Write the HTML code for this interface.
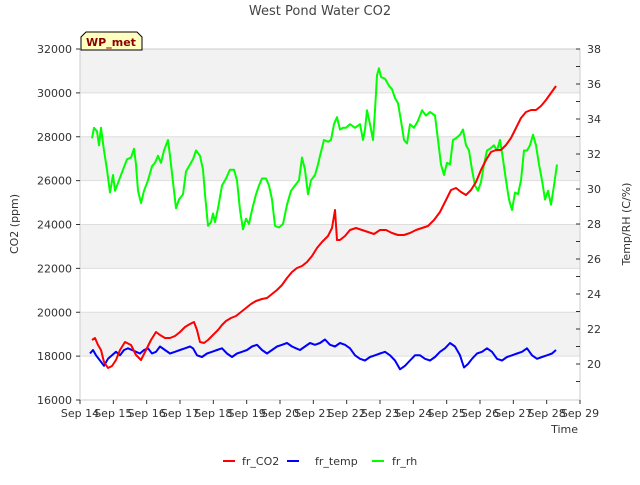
<!DOCTYPE html>
<html><head><meta charset="utf-8"><style>
body{margin:0;background:#fff;font-family:"Liberation Sans",sans-serif}
svg text{font-family:"DejaVu Sans","Liberation Sans",sans-serif}
</style></head><body>
<svg id="chart" width="640" height="480">
<text x="320" y="15" text-anchor="middle" font-size="13" fill="#444">West Pond Water CO2</text>
<g id="bands"></g>
<rect x="80" y="49" width="500" height="351" fill="none" stroke="#ccc"/>
<g id="axes"></g>
<g id="series"></g>
<text transform="translate(18,224) rotate(-90)" text-anchor="middle" font-size="11" fill="#333">CO2 (ppm)</text>
<text transform="translate(630,224) rotate(-90)" text-anchor="middle" font-size="11" fill="#333">Temp/RH (C/%)</text>
<text x="578" y="433" text-anchor="end" font-size="11" fill="#333">Time</text>
<g>
<path d="M81,50 L81,37 L86,32 L137,32 L142,37 L142,50 Z" fill="#ffffc0" stroke="#000"/>
<text x="111" y="46" text-anchor="middle" font-size="11" font-weight="bold" fill="#8b0000">WP_met</text>
</g>
<g>
<g><line x1="223" y1="461" x2="235" y2="461" stroke="#f00" stroke-width="2"/><text x="242" y="465" font-size="11" fill="#333">fr_CO2</text></g>
<g><line x1="287" y1="461" x2="299" y2="461" stroke="#00f" stroke-width="2"/><text x="315" y="465" font-size="11" fill="#333">fr_temp</text></g>
<g><line x1="372" y1="461" x2="384" y2="461" stroke="#0f0" stroke-width="2"/><text x="392" y="465" font-size="11" fill="#333">fr_rh</text></g>
</g>
</svg>
<script>
const xTickLabels=["Sep 14","Sep 15","Sep 16","Sep 17","Sep 18","Sep 19","Sep 20","Sep 21","Sep 22","Sep 23","Sep 24","Sep 25","Sep 26","Sep 27","Sep 28","Sep 29"];
const yTicks=[16000,18000,20000,22000,24000,26000,28000,30000,32000];
const y2Ticks=[20,22,24,26,28,30,32,34,36,38];
const co2T=[.36,.45,.54,.63,.72,.84,.96,1.08,1.2,1.35,1.53,1.68,1.83,1.98,2.13,2.28,2.4,2.55,2.7,2.85,3.0,3.15,3.3,3.42,3.51,3.6,3.72,3.84,3.99,4.14,4.26,4.38,4.53,4.68,4.83,4.98,5.13,5.28,5.46,5.61,5.76,5.91,6.06,6.21,6.36,6.51,6.66,6.81,6.96,7.11,7.26,7.44,7.56,7.65,7.71,7.8,7.95,8.1,8.28,8.46,8.64,8.82,9.0,9.18,9.36,9.54,9.72,9.9,10.08,10.26,10.44,10.62,10.8,10.98,11.13,11.28,11.43,11.58,11.73,11.88,12.03,12.18,12.33,12.48,12.63,12.78,12.93,13.08,13.23,13.38,13.53,13.68,13.83,13.98,14.13,14.28];
const co2V=[18735,18826,18507,18279,17732,17459,17550,17823,18279,18644,18507,18051,17823,18279,18735,19100,18963,18826,18826,18917,19100,19327,19464,19555,19191,18644,18598,18735,18963,19191,19419,19601,19738,19829,20011,20193,20376,20512,20604,20649,20832,21014,21242,21561,21834,22017,22108,22290,22563,22928,23202,23475,23840,24660,23293,23293,23475,23749,23840,23749,23658,23566,23749,23749,23612,23521,23521,23612,23749,23840,23931,24205,24569,25116,25572,25663,25481,25344,25572,25937,26484,26940,27305,27396,27396,27624,27943,28398,28854,29128,29219,29219,29401,29675,29994,30313];
const tempT=[.3,.39,.48,.6,.72,.84,.96,1.08,1.2,1.32,1.44,1.56,1.68,1.8,1.92,2.04,2.16,2.28,2.4,2.55,2.7,2.85,3.0,3.15,3.3,3.39,3.51,3.66,3.81,3.96,4.11,4.26,4.41,4.56,4.71,4.86,5.01,5.16,5.31,5.46,5.61,5.76,5.91,6.06,6.21,6.36,6.48,6.6,6.75,6.9,7.05,7.2,7.35,7.5,7.65,7.8,7.95,8.1,8.25,8.4,8.55,8.7,8.85,9.0,9.15,9.3,9.45,9.6,9.75,9.9,10.05,10.2,10.35,10.5,10.65,10.8,10.95,11.1,11.25,11.4,11.52,11.64,11.76,11.91,12.06,12.21,12.36,12.51,12.66,12.81,12.96,13.11,13.26,13.41,13.56,13.71,13.86,14.01,14.16,14.28];
const tempV=[20.6,20.8,20.5,20.2,19.9,20.3,20.5,20.7,20.5,20.8,20.9,20.8,20.7,20.6,20.8,20.9,20.6,20.7,21.0,20.8,20.6,20.7,20.8,20.9,21.0,20.9,20.5,20.4,20.6,20.7,20.8,20.9,20.6,20.4,20.6,20.7,20.8,21.0,21.1,20.8,20.6,20.8,21.0,21.1,21.2,21.0,20.9,20.8,21.0,21.2,21.1,21.2,21.4,21.1,21.0,21.2,21.1,20.9,20.5,20.3,20.2,20.4,20.5,20.6,20.7,20.5,20.2,19.7,19.9,20.2,20.5,20.5,20.3,20.2,20.4,20.7,20.9,21.2,21.0,20.5,19.8,20.0,20.3,20.6,20.7,20.9,20.7,20.3,20.2,20.4,20.5,20.6,20.7,20.9,20.5,20.3,20.4,20.5,20.6,20.8];
const rhT=[.36,.42,.51,.57,.63,.72,.81,.9,.99,1.05,1.17,1.29,1.41,1.53,1.62,1.68,1.74,1.83,1.92,2.04,2.16,2.25,2.34,2.43,2.52,2.64,2.7,2.79,2.88,2.97,3.09,3.18,3.3,3.39,3.48,3.6,3.69,3.75,3.84,3.93,3.99,4.05,4.14,4.26,4.38,4.5,4.62,4.71,4.8,4.89,4.98,5.07,5.16,5.28,5.37,5.46,5.58,5.67,5.76,5.85,5.97,6.09,6.21,6.33,6.45,6.57,6.66,6.75,6.84,6.93,7.05,7.14,7.2,7.32,7.44,7.53,7.62,7.71,7.8,7.89,7.98,8.1,8.25,8.4,8.49,8.55,8.61,8.7,8.79,8.85,8.91,8.97,9.03,9.15,9.27,9.36,9.45,9.54,9.63,9.72,9.81,9.9,10.02,10.14,10.26,10.38,10.5,10.65,10.74,10.83,10.92,11.01,11.1,11.19,11.28,11.4,11.49,11.58,11.67,11.76,11.85,11.94,12.03,12.12,12.21,12.3,12.42,12.51,12.6,12.69,12.78,12.87,12.96,13.05,13.14,13.23,13.32,13.41,13.5,13.59,13.68,13.77,13.86,13.95,14.04,14.13,14.22,14.31];
const rhV=[32.9,33.5,33.3,32.5,33.5,32.2,31.1,29.8,30.8,29.9,30.5,31.1,31.7,31.8,32.3,31.4,29.9,29.2,29.9,30.5,31.3,31.5,31.9,31.5,32.2,32.8,31.9,30.4,28.9,29.4,29.7,31.0,31.4,31.7,32.2,31.9,31.1,29.7,27.9,28.1,28.6,28.1,28.9,30.2,30.6,31.1,31.1,30.5,28.8,27.7,28.3,28.0,28.8,29.7,30.2,30.6,30.6,30.2,29.4,27.9,27.8,28.0,29.1,29.9,30.2,30.5,31.8,31.1,29.7,30.5,30.8,31.4,31.9,32.8,32.7,32.8,33.7,34.1,33.4,33.5,33.5,33.7,33.5,33.7,32.8,33.4,34.5,33.7,32.8,34.5,36.5,36.9,36.4,36.3,35.9,35.7,35.2,34.9,33.9,32.8,32.6,33.7,33.5,33.9,34.5,34.2,34.4,34.2,32.8,31.4,30.8,31.5,31.4,32.8,32.9,33.1,33.4,32.5,32.2,31.1,30.2,29.9,30.4,31.4,32.2,32.3,32.5,32.2,32.8,31.7,30.5,29.4,28.8,29.8,29.7,30.5,32.2,32.2,32.5,33.1,32.5,31.4,30.5,29.4,29.9,29.1,30.2,31.4];

const NS="http://www.w3.org/2000/svg";
const X0=80,X1=580,Y0=400,Y1=49;
const xs=t=>X0+t*(X1-X0)/15;
const ys=v=>Y0-(v-16000)*(Y0-Y1)/16000;
const ys2=v=>364-(v-20)*17.5;
function mk(tag,attrs,parent){const e=document.createElementNS(NS,tag);for(const k in attrs)e.setAttribute(k,attrs[k]);parent.appendChild(e);return e;}
const bands=document.getElementById('bands'),axes=document.getElementById('axes'),series=document.getElementById('series');
for(let i=0;i<yTicks.length-1;i++){
  const r=mk('rect',{x:X0,y:ys(yTicks[i+1]),width:X1-X0,height:ys(yTicks[i])-ys(yTicks[i+1]),fill:(i%2===1)?'#f2f2f2':'#fff'},bands);
  
  
  if(i>0){const g=mk('line',{x1:X0,x2:X1,y1:ys(yTicks[i]),y2:ys(yTicks[i]),stroke:'#ddd'},bands);
  
  }
}
yTicks.forEach(v=>{const t=mk('text',{x:72,y:ys(v)+4,'text-anchor':'end','font-size':11,fill:'#333'},axes);t.textContent=v;


mk('line',{x1:76,x2:80,y1:ys(v),y2:ys(v),stroke:'#333'},axes);});
y2Ticks.forEach(v=>{const t=mk('text',{x:587,y:ys2(v)+4,'font-size':11,fill:'#333'},axes);t.textContent=v;


mk('line',{x1:576,x2:580,y1:ys2(v),y2:ys2(v),stroke:'#333'},axes);
mk('line',{x1:576,x2:580,y1:ys2(v-1),y2:ys2(v-1),stroke:'#333'},axes);});
xTickLabels.forEach((s,i)=>{const t=mk('text',{x:xs(i),y:417,'text-anchor':'middle','font-size':11,fill:'#333'},axes);t.textContent=s;


mk('line',{x1:xs(i),x2:xs(i),y1:400,y2:404,stroke:'#333'},axes);});
function line(T,V,fy,col,name){const d=T.map((t,i)=>(i?'L':'M')+xs(t).toFixed(1)+','+fy(V[i]).toFixed(1)).join('');
const p=mk('path',{d:d,fill:'none',stroke:col,'stroke-width':2,'stroke-linejoin':'round'},series);

}
line(rhT,rhV,ys2,'#0f0','fr-rh-line');
line(tempT,tempV,ys2,'#00f','fr-temp-line');
line(co2T,co2V,ys,'#f00','fr-co2-line');
</script>
</body></html>
